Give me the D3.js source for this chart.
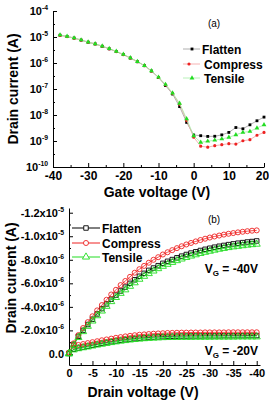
<!DOCTYPE html>
<html>
<head>
<meta charset="utf-8">
<script src="https://cdn.jsdelivr.net/npm/d3@7"></script>
<style>
  body { margin: 0; background: #fff; }
  svg { display: block; font-family: "Liberation Sans", Arial, sans-serif; }
  .tk text { font-weight: bold; }
</style>
</head>
<body>
<svg id="chart" width="269" height="400"></svg>
<script>
// ---- (a) transfer curves, drain current in A ----
const gateV = [-38, -36, -34, -32, -30, -28, -26, -24, -22, -20, -18, -16, -14, -12, -10,
  -8, -6, -4, -2, 0, 2, 4, 6, 8, 10, 12, 14, 16, 18, 20];
const idFlatten = [1.17e-5, 1.05e-5, 9.1e-6, 7.6e-6, 6.3e-6, 5.4e-6, 4.4e-6, 3.5e-6, 2.75e-6, 2.1e-6,
  1.55e-6, 1.12e-6, 7.9e-7, 4.9e-7, 2.75e-7, 1.35e-7, 6.4e-8, 2.1e-8, 5.2e-9, 1.7e-9,
  1.6e-9, 1.5e-9, 1.52e-9, 1.72e-9, 2.14e-9, 3.3e-9, 2.95e-9, 4.2e-9, 6.0e-9, 8.3e-9];
const idCompress = [1.15e-5, 1.04e-5, 9.0e-6, 7.6e-6, 6.3e-6, 5.4e-6, 4.4e-6, 3.5e-6, 2.75e-6, 2.1e-6,
  1.55e-6, 1.12e-6, 7.9e-7, 4.9e-7, 2.8e-7, 1.45e-7, 6.8e-8, 2.6e-8, 6.2e-9, 1.4e-9,
  6.3e-10, 5.8e-10, 6.6e-10, 7.2e-10, 7.9e-10, 7.6e-10, 1.02e-9, 1.12e-9, 1.66e-9, 2.14e-9];
const idTensile = [1.2e-5, 1.06e-5, 9.2e-6, 7.7e-6, 6.4e-6, 5.5e-6, 4.5e-6, 3.6e-6, 2.8e-6, 2.15e-6,
  1.58e-6, 1.14e-6, 8.0e-7, 5.0e-7, 2.85e-7, 1.5e-7, 7.0e-8, 2.8e-8, 7.1e-9, 1.58e-9,
  8.9e-10, 9.8e-10, 1.07e-9, 1.2e-9, 1.38e-9, 1.74e-9, 2.14e-9, 2.34e-9, 3.16e-9, 4.2e-9];
const gateTicks = [-40, -30, -20, -10, 0, 10, 20];
const logTicks = [-4, -5, -6, -7, -8, -9, -10];

// ---- (b) output curves, drain current in units of 1e-6 A ----
const drainV = [0, -1, -2, -3, -4, -5, -6, -7, -8, -9, -10, -11, -12, -13, -14, -15, -16, -17, -18, -19, -20,
  -21, -22, -23, -24, -25, -26, -27, -28, -29, -30, -31, -32, -33, -34, -35, -36, -37, -38, -39, -40];
const flat40 = [-0.05, -0.8, -1.5, -2.0, -2.5, -2.95, -3.4, -3.85, -4.25, -4.65, -5.0, -5.35, -5.68, -6.0, -6.3,
  -6.6, -6.85, -7.1, -7.3, -7.5, -7.7, -7.87, -8.02, -8.17, -8.31, -8.45, -8.57, -8.68, -8.79, -8.89, -8.98,
  -9.07, -9.15, -9.22, -9.29, -9.35, -9.41, -9.46, -9.51, -9.55, -9.6];
const comp40 = [-0.1, -0.9, -1.6, -2.2, -2.7, -3.2, -3.7, -4.15, -4.6, -5.05, -5.45, -5.85, -6.2, -6.55, -6.9,
  -7.2, -7.48, -7.75, -8.0, -8.22, -8.45, -8.64, -8.82, -8.99, -9.15, -9.3, -9.43, -9.56, -9.68, -9.79, -9.89,
  -9.98, -10.06, -10.14, -10.21, -10.27, -10.33, -10.38, -10.43, -10.47, -10.5];
const tens40 = [-0.05, -0.75, -1.4, -1.9, -2.35, -2.8, -3.25, -3.65, -4.05, -4.45, -4.8, -5.15, -5.45, -5.75, -6.05,
  -6.35, -6.6, -6.83, -7.05, -7.25, -7.45, -7.62, -7.78, -7.93, -8.07, -8.2, -8.32, -8.43, -8.54, -8.64, -8.73,
  -8.82, -8.9, -8.97, -9.04, -9.1, -9.15, -9.2, -9.25, -9.29, -9.33];
const flat20 = [-0.05, -0.4, -0.5, -0.58, -0.66, -0.74, -0.82, -0.9, -0.97, -1.04, -1.1, -1.16, -1.21, -1.26, -1.3,
  -1.34, -1.37, -1.4, -1.43, -1.45, -1.47, -1.49, -1.5, -1.51, -1.52, -1.52, -1.53, -1.53, -1.53, -1.54, -1.54,
  -1.54, -1.54, -1.55, -1.55, -1.55, -1.55, -1.55, -1.56, -1.56, -1.56];
const comp20 = [-0.1, -0.7, -0.76, -0.84, -0.92, -1.0, -1.08, -1.16, -1.23, -1.3, -1.37, -1.43, -1.49, -1.54, -1.59,
  -1.63, -1.66, -1.69, -1.72, -1.74, -1.76, -1.78, -1.79, -1.8, -1.81, -1.81, -1.82, -1.82, -1.82, -1.83, -1.83,
  -1.83, -1.83, -1.83, -1.84, -1.84, -1.84, -1.84, -1.84, -1.84, -1.84];
const tens20 = [0.0, -0.35, -0.45, -0.53, -0.6, -0.68, -0.76, -0.83, -0.9, -0.97, -1.03, -1.09, -1.14, -1.19, -1.23,
  -1.27, -1.3, -1.33, -1.35, -1.37, -1.39, -1.4, -1.41, -1.41, -1.42, -1.42, -1.42, -1.43, -1.43, -1.43, -1.43,
  -1.44, -1.44, -1.44, -1.44, -1.44, -1.45, -1.45, -1.45, -1.45, -1.45];
const drainTicks = [0, -5, -10, -15, -20, -25, -30, -35, -40];
const curTicks = [-12, -10, -8, -6, -4, -2, 0];
const curLabels = [["-1.2x10", "-5"], ["-1.0x10", "-5"], ["-8.0x10", "-6"], ["-6.0x10", "-6"],
  ["-4.0x10", "-6"], ["-2.0x10", "-6"], ["0.0", ""]];

const seriesNames = ["Flatten", "Compress", "Tensile"];
const colors = ["#000000", "#ee2222", "#22dd22"];
const lightColors = ["#9a9a9a", "#f3a0a0", "#a6eea6"];

const svg = d3.select("#chart");

// superscript label helper
function supText(sel, base, sup, size) {
  sel.append("tspan").text(base);
  if (sup) sel.append("tspan").attr("dy", -5).attr("font-size", size * 0.62).text(sup);
}

function shape(i, size) {
  const t = [d3.symbolSquare, d3.symbolCircle, d3.symbolTriangle][i];
  return d3.symbol().type(t).size(size)();
}

// =========================
// (a) transfer curve
// =========================
const xA = d3.scaleLinear().domain([-40, 20]).range([53, 264]);
const yA = d3.scaleLog().domain([1e-10, 1e-4]).range([167, 11]);

const gA = svg.append("g");

gA.append("g").attr("class", "tk").attr("transform", "translate(0,167)")
  .call(d3.axisBottom(xA).tickValues(gateTicks).tickSizeInner(-4).tickSizeOuter(0).tickPadding(4)
    .tickFormat(d => String(d)))
  .call(g => g.selectAll("text").attr("font-size", 12))
  .call(g => g.selectAll(".tick text").filter(d => d === 20).attr("dx", -2));
gA.append("g").attr("transform", "translate(0,167)")
  .call(d3.axisBottom(xA).tickValues([-35, -25, -15, -5, 5, 15]).tickSizeInner(-2).tickSizeOuter(0).tickFormat(""))
  .call(g => g.select(".domain").remove());

gA.append("g").attr("class", "tk").attr("transform", "translate(53,0)")
  .call(d3.axisLeft(yA).tickValues(logTicks.map(p => Math.pow(10, p))).tickSizeInner(-4).tickSizeOuter(0).tickPadding(5)
    .tickFormat(""))
  .call(g => g.selectAll(".tick text").attr("font-size", 11).each(function (d) {
    supText(d3.select(this), "10", String(Math.round(Math.log10(d))), 11);
  }));
gA.append("g").attr("transform", "translate(53,0)")
  .call(d3.axisLeft(yA).tickValues(logTicks.slice(1).map(p => 3.16 * Math.pow(10, p))).tickSizeInner(-2).tickSizeOuter(0).tickFormat(""))
  .call(g => g.select(".domain").remove());

gA.append("text").attr("transform", "translate(18,89) rotate(-90)").attr("text-anchor", "middle")
  .attr("font-size", 14).attr("font-weight", "bold").text("Drain current (A)");
gA.append("text").attr("x", 157).attr("y", 197).attr("text-anchor", "middle")
  .attr("font-size", 14).attr("font-weight", "bold").text("Gate voltage (V)");
gA.append("text").attr("x", 214).attr("y", 27).attr("text-anchor", "middle")
  .attr("font-size", 10).text("(a)");

[idFlatten, idCompress, idTensile].forEach((vals, i) => {
  const pts = gateV.map((v, k) => [v, vals[k]]);
  gA.append("path").datum(pts)
    .attr("fill", "none").attr("stroke", lightColors[i]).attr("stroke-width", 0.8)
    .attr("d", d3.line().x(d => xA(d[0])).y(d => yA(d[1])));
  gA.append("g").selectAll("path").data(pts).join("path")
    .attr("transform", d => `translate(${xA(d[0])},${yA(d[1])})`)
    .attr("d", shape(i, i === 2 ? 10 : 8)).attr("fill", colors[i]);
});

const legA = [49, 64, 78];
seriesNames.forEach((name, i) => {
  gA.append("line").attr("x1", 183).attr("x2", 200).attr("y1", legA[i]).attr("y2", legA[i])
    .attr("stroke", lightColors[i]).attr("stroke-width", 0.8);
  gA.append("path").attr("transform", `translate(${i === 1 ? 189 : 192},${legA[i]})`)
    .attr("d", shape(i, i === 2 ? 10 : 8)).attr("fill", colors[i]);
  gA.append("text").attr("x", i === 0 ? 202 : 204).attr("y", legA[i] + 4.5)
    .attr("font-size", 12).attr("font-weight", "bold").text(name);
});

// =========================
// (b) output curve
// =========================
const xB = d3.scaleLinear().domain([0, -40.7]).range([69, 260]);
const yB = d3.scaleLinear().domain([0.94, -12.4]).range([365, 208]);

const gB = svg.append("g");

gB.append("g").attr("class", "tk").attr("transform", "translate(0,365)")
  .call(d3.axisBottom(xB).tickValues(drainTicks).tickSizeInner(-4).tickSizeOuter(0).tickPadding(4)
    .tickFormat(d => String(d)))
  .call(g => g.selectAll("text").attr("font-size", 11));
gB.append("g").attr("transform", "translate(0,365)")
  .call(d3.axisBottom(xB).tickValues([-2.5, -7.5, -12.5, -17.5, -22.5, -27.5, -32.5, -37.5]).tickSizeInner(-2).tickSizeOuter(0).tickFormat(""))
  .call(g => g.select(".domain").remove());

gB.append("g").attr("class", "tk").attr("transform", "translate(69,0)")
  .call(d3.axisLeft(yB).tickValues(curTicks).tickSizeInner(-4).tickSizeOuter(0).tickPadding(5).tickFormat(""))
  .call(g => g.selectAll(".tick text").attr("font-size", 11).each(function (d, k) {
    supText(d3.select(this), curLabels[k][0], curLabels[k][1], 11);
  }));
gB.append("g").attr("transform", "translate(69,0)")
  .call(d3.axisLeft(yB).tickValues([-11, -9, -7, -5, -3, -1]).tickSizeInner(-2).tickSizeOuter(0).tickFormat(""))
  .call(g => g.select(".domain").remove());

gB.append("text").attr("transform", "translate(16,278) rotate(-90)").attr("text-anchor", "middle")
  .attr("font-size", 14).attr("font-weight", "bold").text("Drain current (A)");
gB.append("text").attr("x", 143).attr("y", 397).attr("text-anchor", "middle")
  .attr("font-size", 14).attr("font-weight", "bold").text("Drain voltage (V)");
gB.append("text").attr("x", 214).attr("y", 223).attr("text-anchor", "middle")
  .attr("font-size", 10).text("(b)");

[[flat20, flat40], [comp20, comp40], [tens20, tens40]].forEach((pair, i) => {
  pair.forEach(vals => {
    const pts = drainV.map((v, k) => [v, vals[k]]);
    gB.append("path").datum(pts)
      .attr("fill", "none").attr("stroke", colors[i]).attr("stroke-width", 0.8)
      .attr("d", d3.line().x(d => xB(d[0])).y(d => yB(d[1])));
    gB.append("g").selectAll("path").data(pts).join("path")
      .attr("transform", d => `translate(${xB(d[0])},${yB(d[1])})`)
      .attr("d", shape(i, i === 2 ? 22 : 20)).attr("fill", "#fff").attr("fill-opacity", 0)
      .attr("stroke", colors[i]).attr("stroke-width", 0.9);
  });
});

const legB = [228, 243, 257];
seriesNames.forEach((name, i) => {
  gB.append("line").attr("x1", 72).attr("x2", 100).attr("y1", legB[i]).attr("y2", legB[i])
    .attr("stroke", colors[i]).attr("stroke-width", 1);
  gB.append("path").attr("transform", `translate(86,${legB[i]})`)
    .attr("d", shape(i, i === 2 ? 22 : 20)).attr("fill", "#fff")
    .attr("stroke", colors[i]).attr("stroke-width", 0.9);
  gB.append("text").attr("x", 102).attr("y", legB[i] + 4.5)
    .attr("font-size", 12).attr("font-weight", "bold").text(name);
});

[["-40V", 273], ["-20V", 355]].forEach(([v, y]) => {
  const t = gB.append("text").attr("x", 258).attr("y", y).attr("text-anchor", "end")
    .attr("font-size", 12).attr("font-weight", "bold");
  t.append("tspan").text("V");
  t.append("tspan").attr("dy", 3).attr("font-size", 8).text("G");
  t.append("tspan").attr("dy", -3).text(" = " + v);
});
</script>
</body>
</html>
